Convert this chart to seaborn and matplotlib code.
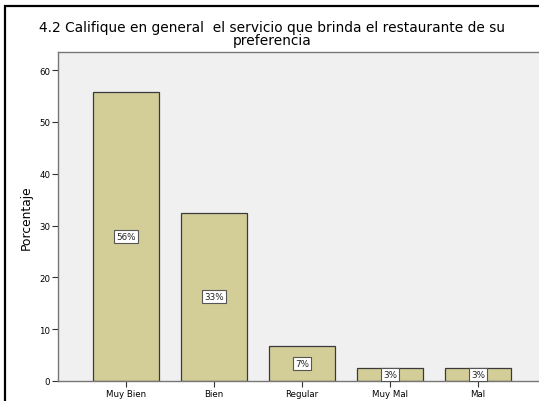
import matplotlib
matplotlib.use("Agg")
import matplotlib.pyplot as plt
from matplotlib.patches import Rectangle
import seaborn as sns
import pandas as pd
from decimal import Decimal, ROUND_HALF_UP

# Survey answers (respondent counts per rating)
categorias = ["Muy Bien", "Bien", "Regular", "Muy Mal", "Mal"]
conteos = [67, 39, 8, 3, 3]
total = sum(conteos)
porcentajes = [100 * c / total for c in conteos]
etiquetas = [f"{Decimal(str(p)).quantize(Decimal('1'), rounding=ROUND_HALF_UP)}%" for p in porcentajes]
ticks_y = [0, 10, 20, 30, 40, 50, 60]

df = pd.DataFrame({"categoria": categorias, "porcentaje": porcentajes})

sns.set_style("white")
plt.rcParams["font.family"] = ["DejaVu Sans"]
plt.rcParams["text.color"] = "black"
plt.rcParams["axes.labelcolor"] = "black"
plt.rcParams["xtick.color"] = "black"
plt.rcParams["ytick.color"] = "black"

fig = plt.figure(figsize=(5.39, 4.02), dpi=100)
fig.patch.set_facecolor("white")

# outer chart frame
fig.add_artist(Rectangle((5 / 539, -0.1), 1.2, 1.1 - 7 / 402,
                         transform=fig.transFigure, fill=False,
                         edgecolor="black", linewidth=1.6))

ax = fig.add_axes([58 / 539, 20 / 402, 488 / 539, 329 / 402])
ax.set_facecolor("#F0F0F0")

sns.barplot(data=df, x="categoria", y="porcentaje", color="#D3CE98",
            width=0.75, saturation=1, edgecolor="#3A3A3A", linewidth=0.9, ax=ax)

for i, (p, t) in enumerate(zip(porcentajes, etiquetas)):
    ax.text(i, p / 2, t, ha="center", va="center", fontsize=6.3, color="#222222",
            bbox=dict(boxstyle="square,pad=0.25", facecolor="white",
                      edgecolor="#555555", linewidth=0.8))

ax.set_xlim(-0.773, 4.773)
ax.set_ylim(0, 63.5)
ax.set_yticks(ticks_y)
ax.set_xlabel("")
ax.set_ylabel("Porcentaje", fontsize=8.8, labelpad=5)
ax.tick_params(axis="both", labelsize=6.2, length=4, width=0.8, color="#333333",
               pad=1.5, direction="out")
ax.tick_params(axis="x", bottom=True)
ax.tick_params(axis="y", left=True)
for side in ["left", "bottom", "top", "right"]:
    ax.spines[side].set_color("#777777")
    ax.spines[side].set_linewidth(1.0)

fig.text(272 / 539, 1 - 28 / 402,
         "4.2 Califique en general  el servicio que brinda el restaurante de su",
         ha="center", va="center", fontsize=9.9)
fig.text(272 / 539, 1 - 41 / 402, "preferencia", ha="center", va="center",
         fontsize=9.9)

fig.savefig("out.png", dpi=100)
